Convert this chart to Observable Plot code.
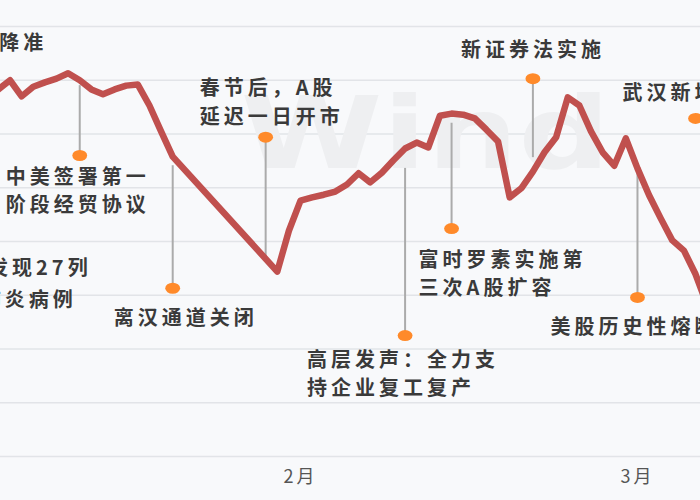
<!DOCTYPE html>
<html><head><meta charset="utf-8">
<script src="https://cdn.jsdelivr.net/npm/d3@7"></script>
<script src="https://cdn.jsdelivr.net/npm/@observablehq/plot@0.6"></script>
<style>
html,body{margin:0;padding:0;background:#f8f9fb;}
#chart{width:700px;height:500px;overflow:hidden;}
#chart svg{display:block;}
</style></head><body><div id="chart"></div>
<script>
// ---- data (上证指数 走势) ----
const dates = [
  "2020-01-06","2020-01-07","2020-01-08","2020-01-09","2020-01-10","2020-01-11","2020-01-12","2020-01-13",
  "2020-01-14","2020-01-15","2020-01-16","2020-01-17","2020-01-18","2020-01-19","2020-01-20","2020-01-21",
  "2020-01-30","2020-01-31","2020-02-01","2020-02-02","2020-02-03","2020-02-04","2020-02-05","2020-02-06",
  "2020-02-07","2020-02-08","2020-02-09","2020-02-10","2020-02-11","2020-02-12","2020-02-13","2020-02-14",
  "2020-02-15","2020-02-16","2020-02-17","2020-02-18","2020-02-19","2020-02-20","2020-02-21","2020-02-22",
  "2020-02-23","2020-02-24","2020-02-25","2020-02-26","2020-02-27","2020-02-28","2020-02-29","2020-03-01",
  "2020-03-02","2020-03-03","2020-03-04","2020-03-05","2020-03-06","2020-03-07"
];
const values = [
  3083, 3100, 3070, 3088, 3096, 3103, 3113, 3100,
  3083, 3074, 3083, 3090, 3092, 3053, 3005, 2958,
  2744, 2820, 2876, 2882, 2887, 2893, 2906, 2927,
  2910, 2928, 2951, 2973, 2984, 2975, 3034, 3038,
  3036, 3029, 3008, 2986, 2882, 2899, 2930, 2966,
  2994, 3068, 3053, 3005, 2966, 2941, 2992, 2936,
  2886, 2843, 2802, 2783, 2739, 2681
];
const yTicks = [2400, 2500, 2600, 2700, 2800, 2900, 3000, 3100, 3200];
const monthTicks = ["2020-02-01", "2020-03-01"];
const monthLabels = ["2月", "3月"];

// events: date, dot value, end of pin (on the line), label lines
const eventDates   = ["2020-01-01","2019-12-31","2020-01-13","2020-01-21","2020-01-29","2020-02-10","2020-02-14","2020-02-21","2020-03-01","2020-03-06"];
const eventDot     = [3118, 2802, 2960, 2713, 2994, 2625, 2824, 3103, 2696, 3029];
const eventLineEnd = [3118, 2802, 3090, 2941, 2772, 2936, 3020, 2956, 2927, 3029];
const eventLabels  = [
  ["央行全面降准"],
  ["武汉发现27列", "不明肺炎病例"],
  ["中美签署第一", "阶段经贸协议"],
  ["离汉通道关闭"],
  ["春节后，A股", "延迟一日开市"],
  ["高层发声：全力支", "持企业复工复产"],
  ["富时罗素实施第", "三次A股扩容"],
  ["新证券法实施"],
  ["美股历史性熔断"],
  ["武汉新增病例清零"]
];

// ---- layout of labels (pixel offsets from each event dot) ----
const labelLayout = [
  {anchor: "end",   lines: [[107, -27]]},
  {anchor: "end",   lines: [[163, 28], [148, 60]]},
  {anchor: "end",   lines: [[70, 22], [70, 50]]},
  {anchor: "start", lines: [[-59, 30]]},
  {anchor: "start", lines: [[-66, -49], [-66, -20]]},
  {anchor: "start", lines: [[-98, 25], [-98, 53]]},
  {anchor: "start", lines: [[-33, 32], [-33, 60]]},
  {anchor: "start", lines: [[-72, -28]]},
  {anchor: "start", lines: [[-87, 30]]},
  {anchor: "start", lines: [[-73, -25]]}
];

const series = dates.map((d, i) => ({date: new Date(d), value: values[i]}));
const events = eventDates.map((d, i) => ({date: new Date(d), dot: eventDot[i], end: eventLineEnd[i], lines: eventLabels[i]}));

const font = "'Noto Sans CJK SC', 'Microsoft YaHei', sans-serif";
const labelMarks = [];
events.forEach((ev, i) => {
  const lay = labelLayout[i];
  ev.lines.forEach((txt, j) => {
    labelMarks.push(Plot.text([ev], {
      x: "date", y: "dot", text: () => txt,
      dx: lay.lines[j][0], dy: lay.lines[j][1],
      textAnchor: lay.anchor, lineAnchor: "middle",
      fontSize: 20, fontWeight: "bold", fill: "#3a3a3a",
      fontFamily: font
    }));
  });
});

const chart = Plot.plot({
  width: 700, height: 500,
  marginLeft: 0, marginRight: 0, marginTop: 26, marginBottom: 44,
  style: {background: "#f8f9fb", fontFamily: font, overflow: "hidden"},
  x: {type: "utc", domain: [new Date("2020-01-06"), new Date("2020-03-07")], range: [-2.1, 706.7]},
  y: {domain: [2400, 3200], range: [456, 26], axis: null},
  marks: [
    Plot.gridY(yTicks, {stroke: "#e2e4e8", strokeOpacity: 1, strokeWidth: 1.5}),
    Plot.text(["Wind"], {frameAnchor: "top-left", dx: 240, dy: 141, fontSize: 100, fontWeight: "bold",
      fill: "#eeeff1", textAnchor: "start", lineAnchor: "bottom", fontFamily: "DejaVu Sans"}),
    Plot.axisX({
      ticks: monthTicks.map(d => new Date(d)),
      tickFormat: d => monthLabels[monthTicks.indexOf(d.toISOString().slice(0, 10))],
      tickSize: 0, tickPadding: 14, fontSize: 18, color: "#555", label: null
    }),
    Plot.ruleX(events.filter(e => e.end !== e.dot), {x: "date", y1: "dot", y2: "end", stroke: "#ababab", strokeWidth: 2}),
    Plot.line(series, {x: "date", y: "value", stroke: "#c0504e", strokeWidth: 6.5, strokeLinejoin: "round", strokeLinecap: "round"}),
    Plot.dot(events, {x: "date", y: "dot", r: 5.5, fill: "#ff8a2a", stroke: "none"}),
    ...labelMarks
  ]
});
document.getElementById("chart").appendChild(chart);

// ---- styling touches after render ----
const labelSet = new Set(eventLabels.flat());
chart.querySelectorAll("text").forEach(t => {
  const s = t.textContent;
  if (labelSet.has(s)) t.setAttribute("letter-spacing", "4");
  else if (monthLabels.includes(s)) t.setAttribute("letter-spacing", "3");
  else if (s === "Wind") { t.setAttribute("textLength", "370"); t.setAttribute("lengthAdjust", "spacingAndGlyphs"); }
});
chart.querySelectorAll("circle").forEach(c => {
  const cx = c.getAttribute("cx"), cy = c.getAttribute("cy");
  if (cx !== null && cy !== null) {
    c.setAttribute("transform", `translate(${cx},${cy}) scale(1.35,1) translate(${-cx},${-cy})`);
  } else {
    const t = c.getAttribute("transform") || "";
    c.setAttribute("transform", t + " scale(1.35,1)");
  }
});
</script>
</body></html>
